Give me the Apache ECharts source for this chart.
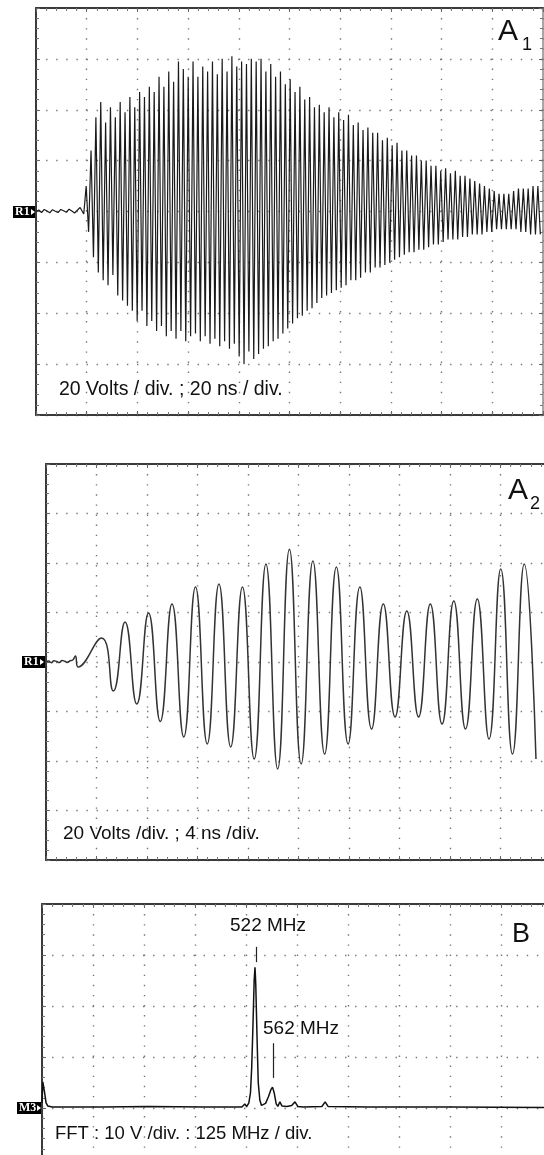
<!DOCTYPE html>
<html>
<head>
<meta charset="utf-8">
<script src="https://cdn.jsdelivr.net/npm/echarts@6/dist/echarts.min.js"></script>
<style>
html, body { margin: 0; padding: 0; background: #fff; }
#main { width: 544px; height: 1155px; }
</style>
</head>
<body>
<div id="main"></div>
<script>
// ---- A1 : 20 V/div, 20 ns/div ; one max / min per carrier cycle (volts)
var a1Noise = [0, 0.6, -0.4, 0.8, 0.2, -0.5, 0.7, 0.1, -0.4, 0.8, 0.3, -0.3, 0.9, 0.2, -0.6, 0.5, 1.6];
var a1Max = [2, 10, 24, 37, 43, 35, 41, 37, 43, 39, 45, 41, 47, 45, 49, 47, 53, 49, 55, 51,
    59, 56, 53, 59, 53, 57, 55, 59, 54, 60, 55, 61, 57, 59, 58, 60, 59, 60, 55, 58,
    53, 55, 50, 52, 47, 49, 44, 45, 41, 42, 39, 41, 37, 39, 36, 38, 34, 35, 32, 33,
    31, 31, 28, 29, 26, 27, 24, 24, 22, 22, 20, 20, 18, 18, 16, 17, 15, 16, 14, 14,
    13, 12, 11, 10, 9, 8, 7, 7, 7, 8, 9, 9, 9, 10, 10];
var a1Min = [-1, -8, -18, -24, -27, -29, -25, -33, -35, -37, -39, -43, -39, -45, -43, -47, -45, -49, -47, -50,
    -47, -51, -49, -48, -51, -49, -52, -50, -53, -51, -54, -52, -57, -60, -55, -58, -56, -54, -53, -51,
    -50, -48, -46, -44, -42, -41, -39, -38, -36, -34, -33, -32, -31, -30, -29, -27, -27, -26, -24, -24,
    -22, -22, -21, -20, -19, -18, -17, -16, -16, -15, -15, -14, -13, -13, -12, -11, -11, -11, -10, -10,
    -9, -9, -9, -8, -8, -7, -7, -7, -7, -7, -8, -8, -9, -9, -9];
var a1Start = 17.4;     // ns, burst onset
var a1Period = 1.916;   // ns, 522 MHz carrier

// ---- A2 : 20 V/div, 4 ns/div ; successive extrema (volts)
var a2Noise = [0, 0.4, -0.3, 0.5, 0.2, -0.2, 0.6, 0.3, -0.1, 0.5, 0.8, 2.4, -2.0];
var a2Peaks = [9.7, -11.7, 16.2, -17.0, 19.8, -24.0, 23.4, -30.3, 30.3, -33.1, 31.5, -34.3,
    30.3, -39.2, 39.6, -43.2, 45.6, -41.2, 40.8, -37.2, 38.4, -33.1, 30.3, -27.1,
    23.4, -22.2, 20.6, -22.2, 23.4, -25.1, 24.6, -27.1, 25.5, -31.1, 37.6, -37.2, 39.6, -39.2];
var a2Start = 4.4;      // ns, first clear crest
var a2Half = 0.93;      // ns between crest and trough

// ---- B : FFT, 10 V/div, 125 MHz/div
var bFreq = [0, 2, 6, 10, 14, 25, 150, 260, 400, 490, 497, 502, 507, 511, 514, 517, 519, 520, 522, 523, 524, 527,
    530, 534, 538, 542, 548, 555, 561, 565, 569, 574, 578, 583, 588, 600, 612, 620, 627, 640,
    686, 694, 701, 800, 1000, 1250];
var bAmp = [1.0, 5.1, 3.2, 1.0, 0.4, 0.2, 0.2, 0.3, 0.2, 0.2, 0.8, 0.3, 1.0, 3.0, 8.0, 16.0, 22.0, 25.0, 27.6, 26.0, 24.0, 14.0,
    5.0, 1.5, 0.5, 0.4, 0.9, 2.2, 3.6, 4.1, 3.0, 0.8, 0.3, 1.2, 0.4, 0.3, 0.5, 1.2, 0.3, 0.2,
    0.3, 1.2, 0.3, 0.2, 0.2, 0.1];

function buildA1() {
    var d = [];
    var i;
    for (i = 0; i < a1Noise.length; i++) {
        d.push([i * a1Start / (a1Noise.length - 1), a1Noise[i]]);
    }
    for (i = 0; i < a1Max.length; i++) {
        d.push([a1Start + (i + 0.25) * a1Period, a1Max[i]]);
        d.push([a1Start + (i + 0.75) * a1Period, a1Min[i]]);
    }
    return d;
}

function buildA2() {
    var d = [];
    var i;
    for (i = 0; i < a2Noise.length; i++) {
        d.push([i * (a2Start - 2 * a2Half) / (a2Noise.length - 1), a2Noise[i]]);
    }
    for (i = 0; i < a2Peaks.length; i++) {
        d.push([a2Start + i * a2Half, a2Peaks[i]]);
    }
    return d;
}

var dotted = { color: '#777', width: 1.4, type: [1.4, 8.7] };
var borderLine = { show: true, onZero: false, lineStyle: { color: '#3a3a3a', width: 2 } };
var tick = { show: true, inside: true, length: 4, lineStyle: { color: '#666' } };
var minor = { show: true, splitNumber: 5, length: 3, lineStyle: { color: '#777' } };

function xAxes(g, min, max, step) {
    return [
        { type: 'value', gridIndex: g, min: min, max: max, interval: step, position: 'bottom',
          axisLine: borderLine, axisTick: tick, minorTick: minor, axisLabel: { show: false },
          splitLine: { show: true, lineStyle: dotted } },
        { type: 'value', gridIndex: g, min: min, max: max, interval: step, position: 'top',
          axisLine: borderLine, axisTick: tick, minorTick: minor, axisLabel: { show: false },
          splitLine: { show: false } }
    ];
}
function yAxes(g, min, max, step) {
    return [
        { type: 'value', gridIndex: g, min: min, max: max, interval: step, position: 'left',
          axisLine: borderLine, axisTick: tick, minorTick: minor, axisLabel: { show: false },
          splitLine: { show: true, lineStyle: dotted } },
        { type: 'value', gridIndex: g, min: min, max: max, interval: step, position: 'right',
          axisLine: { show: true, onZero: false, lineStyle: { color: '#888', width: 1.5 } },
          axisTick: tick, minorTick: minor, axisLabel: { show: false },
          splitLine: { show: false } }
    ];
}

var font = '"Liberation Sans", Arial, sans-serif';
function txt(x, y, s, size) {
    return { type: 'text', x: x, y: y, silent: true,
        style: { text: s, fill: '#111', font: size + 'px ' + font, verticalAlign: 'middle' } };
}

var chart = echarts.init(document.getElementById('main'));
var option = {
    animation: false,
    backgroundColor: '#fff',
    grid: [
        { left: 36, top: 8, width: 507, height: 407, outerBoundsMode: 'none' },
        { left: 46, top: 464, width: 505, height: 396, outerBoundsMode: 'none' },
        { left: 42, top: 904, width: 510, height: 408, outerBoundsMode: 'none' }
    ],
    xAxis: [].concat(xAxes(0, 0, 200, 20), xAxes(1, 0, 40, 4), xAxes(2, 0, 1250, 125)),
    yAxis: [].concat(yAxes(0, -80, 80, 20), yAxes(1, -80, 80, 20), yAxes(2, -40, 40, 10)),
    series: [
        { type: 'line', xAxisIndex: 0, yAxisIndex: 0, data: buildA1(), showSymbol: false,
          lineStyle: { color: '#1a1a1a', width: 1.2 } },
        { type: 'line', xAxisIndex: 2, yAxisIndex: 2, data: buildA2(), showSymbol: false,
          smooth: 0.5, lineStyle: { color: '#333', width: 1.5 } },
        { type: 'line', xAxisIndex: 4, yAxisIndex: 4, showSymbol: false,
          data: bFreq.map(function (f, i) { return [f, bAmp[i]]; }),
          lineStyle: { color: '#111', width: 1.5 },
          markLine: { silent: true, symbol: 'none', label: { show: false },
              lineStyle: { color: '#222', width: 1.2, type: 'solid' },
              data: [
                  [{ coord: [524, 31.6] }, { coord: [524, 28.6] }],
                  [{ coord: [566, 12.7] }, { coord: [566, 5.9] }]
              ] } }
    ]
};
chart.setOption(option);

function marker(yAxisIdx, x, w, label) {
    var y = chart.convertToPixel({ yAxisIndex: yAxisIdx }, 0);
    return { type: 'group', x: x, y: Math.round(y) - 6, silent: true, children: [
        { type: 'rect', shape: { x: 0, y: 0, width: w, height: 12 }, style: { fill: '#000' } },
        { type: 'text', x: 2, y: 6, style: { text: label, fill: '#fff',
            font: 'bold 12px "Liberation Serif", serif', verticalAlign: 'middle' } },
        { type: 'polygon', shape: { points: [[w - 5, 3], [w - 1, 6], [w - 5, 9]] }, style: { fill: '#fff' } }
    ] };
}

chart.setOption({
    graphic: [
        txt(498, 32, 'A', 30), txt(522, 45, '1', 18),
        txt(59, 390, '20 Volts / div. ; 20 ns / div.', 19.5),
        txt(508, 491, 'A', 30), txt(530, 504, '2', 18),
        txt(63, 834, '20 Volts /div. ; 4 ns /div.', 19),
        txt(512, 935, 'B', 27),
        txt(230, 926, '522 MHz', 19),
        txt(263, 1029, '562 MHz', 19),
        txt(55, 1134, 'FFT : 10 V /div. : 125 MHz / div.', 18.5),
        marker(0, 13, 23, 'R1'),
        marker(2, 22, 23, 'R1'),
        marker(4, 17, 25, 'M3')
    ]
});

window.addEventListener('resize', function () { chart.resize(); });
</script>
</body>
</html>
